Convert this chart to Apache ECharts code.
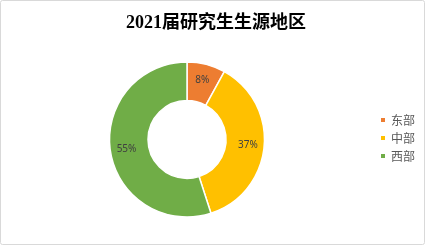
<!DOCTYPE html>
<html><head><meta charset="utf-8">
<style>html,body{margin:0;padding:0;background:#fff}#c{width:426px;height:246px}</style>
<script src="https://cdn.jsdelivr.net/npm/echarts@6/dist/echarts.min.js"></script>
</head><body><div id="c"></div>
<script>
const title = '2021届研究生生源地区';
const categories = ['东部', '中部', '西部'];
const values = [8, 37, 55];
const colors = ['#ED7D31', '#FFC000', '#70AD47'];

const chart = echarts.init(document.getElementById('c'), null, {renderer: 'canvas'});
chart.setOption({
  animation: false,
  backgroundColor: '#fff',
  graphic: [{
    type: 'rect', silent: true,
    shape: {x: 0.5, y: 0.5, width: 424, height: 244, r: 2},
    style: {fill: 'none', stroke: '#D9D9D9', lineWidth: 1}
  }],
  title: {
    text: title, left: 211, textAlign: 'center', top: 9,
    textStyle: {fontFamily: "'Liberation Serif','Noto Sans CJK SC'", fontSize: 18, fontWeight: 'bold', color: '#000'}
  },
  legend: {
    orient: 'vertical', left: 374, top: 109, itemGap: 6,
    itemWidth: 6, itemHeight: 6, icon: 'rect',
    textStyle: {fontFamily: "'Noto Sans CJK SC'", fontSize: 12, color: '#595959'},
    data: categories
  },
  series: [{
    type: 'pie', center: [187, 139.5], radius: [39, 77.5],
    startAngle: 90, clockwise: true,
    data: categories.map((c, i) => ({name: c, value: values[i], itemStyle: {color: colors[i]}})),
    itemStyle: {borderColor: '#fff', borderWidth: 1.5},
    label: {position: 'inside', formatter: p => p.value + '%', fontFamily: "'Noto Sans','DejaVu Sans'", fontSize: 10, color: '#404040'},
    labelLine: {show: false},
    emphasis: {disabled: true}
  }]
});
</script></body></html>
